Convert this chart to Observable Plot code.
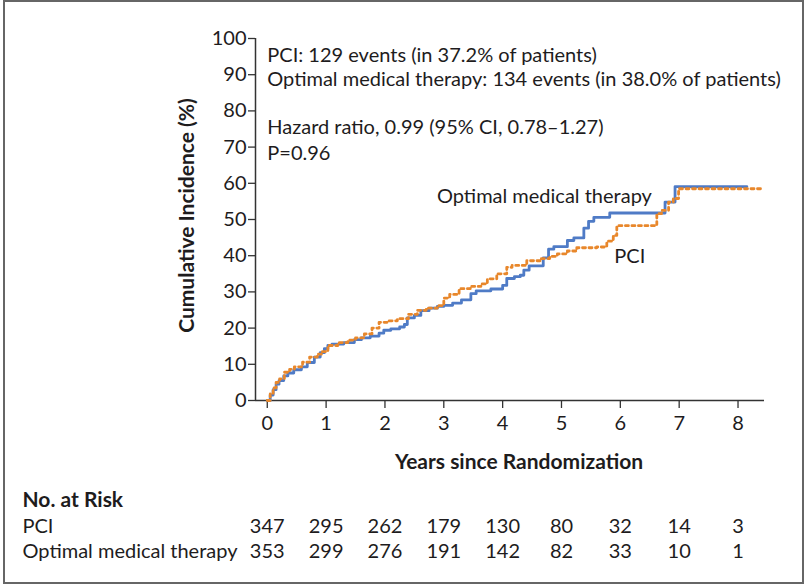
<!DOCTYPE html>
<html>
<head>
<meta charset="utf-8">
<script src="https://cdn.jsdelivr.net/npm/d3@7"></script>
<script src="https://cdn.jsdelivr.net/npm/@observablehq/plot@0.6"></script>
<style>
  html, body { margin: 0; padding: 0; background: #fff; }
  #wrap { position: relative; width: 810px; height: 586px; overflow: hidden; }
  #border { position: absolute; left: 3px; top: 0px; width: 797px; height: 580px; border: 2.5px solid #666; box-sizing: content-box; pointer-events: none; }
  #wrap svg { position: absolute; left: 0; top: 0; }
</style>
</head>
<body>
<div id="wrap"><div id="chart"></div><div id="border"></div></div>
<script>
// Optimal medical therapy (blue, solid): step starts [years, cumulative incidence %]
const omtYears = [0,0.05,0.1,0.15,0.2,0.28,0.35,0.45,0.58,0.68,0.8,0.9,0.97,1.03,1.1,1.3,1.48,1.6,1.75,1.9,1.98,2.1,2.25,2.33,2.38,2.5,2.61,2.75,2.89,3.0,3.15,3.3,3.46,3.55,3.8,4.0,4.07,4.2,4.3,4.36,4.45,4.69,4.78,4.87,5.1,5.21,5.38,5.46,5.55,5.82,6.76,6.93,8.15];
const omtValues = [0,1.5,3,4.5,5.5,6.8,7.6,8.5,9.3,10.5,12,13.2,14.3,15.2,15.6,16.0,16.8,17.3,17.8,18.6,19.4,19.8,20.3,21.0,22.8,23.5,24.8,25.5,26.0,26.3,26.9,27.8,29.5,30.3,30.8,31.8,33.7,34.2,34.6,36.0,37.2,39.4,41.8,42.5,44.2,44.9,47.6,49.5,50.6,51.8,54.8,59.1,59.1];

// PCI (orange, dotted)
const pciYears = [0,0.05,0.1,0.15,0.21,0.29,0.38,0.46,0.6,0.72,0.85,0.92,1.03,1.2,1.37,1.5,1.65,1.78,1.9,2.05,2.21,2.4,2.55,2.7,2.89,3.0,3.1,3.26,3.45,3.63,3.74,3.9,4.07,4.16,4.41,4.64,4.8,4.93,5.1,5.26,5.6,5.77,5.88,5.94,6.62,6.7,6.82,6.9,6.99,8.4];
const pciValues = [0,2,3.5,5,6,7.8,8.6,9.3,10.6,12,12.8,13.5,15.2,16,16.7,17.3,18.4,20,21.6,22,22.6,23.8,24.9,25.5,26.2,28.3,29.3,30.9,31.5,32.2,33.6,35,36.8,37.3,38.6,39.2,39.8,40.5,41.3,42.2,42.4,44,45.6,48.3,51.6,52.5,54.8,55.8,58.5,58.5];

// Axis ticks
const xTicks = [0,1,2,3,4,5,6,7,8];
const yTicks = [0,10,20,30,40,50,60,70,80,90,100];

// Number at risk
const riskYears = [0,1,2,3,4,5,6,7,8];
const pciRisk = [347,295,262,179,130,80,32,14,3];
const omtRisk = [353,299,276,191,142,82,33,10,1];

// Annotations (text, years, percent)
const noteTexts = ["PCI: 129 events (in 37.2% of patients)", "Optimal medical therapy: 134 events (in 38.0% of patients)", "Hazard ratio, 0.99 (95% CI, 0.78\u20131.27)", "P=0.96"];
const noteY = [95.2, 88.7, 75.3, 68.3];
const curveLabels = ["Optimal medical therapy", "PCI"];
const curveLabelX = [4.71, 6.16];
const curveLabelY = [56.4, 39.8];

const xDomain = [-0.2, 8.45];
const yDomain = [0, 100];

const omt = omtYears.map((t, i) => ({t, v: omtValues[i]}));
const pci = pciYears.map((t, i) => ({t, v: pciValues[i]}));
const notes = noteTexts.map((s, i) => ({s, x: 0, y: noteY[i]}));
const labs = curveLabels.map((s, i) => ({s, x: curveLabelX[i], y: curveLabelY[i]}));
const riskP = riskYears.map((t, i) => ({t, n: pciRisk[i]}));
const riskO = riskYears.map((t, i) => ({t, n: omtRisk[i]}));

const FONT = "Lato, 'Open Sans', sans-serif";
const FS = 20;
const FB = 21;
const INK = "#1e1c1d";
const BLUE = "#4f7bc6";
const ORANGE = "#e8872b";

const chart = Plot.plot({
  width: 810,
  height: 586,
  marginLeft: 255,
  marginRight: 46,
  marginTop: 38,
  marginBottom: 186,
  style: {fontFamily: FONT, fontSize: FS + "px", color: INK, background: "transparent", overflow: "visible"},
  x: {domain: xDomain},
  y: {domain: yDomain},
  marks: [
    Plot.axisY({ticks: yTicks, tickSize: 7, tickPadding: 2, label: null, fontSize: FS, stroke: "#333", strokeWidth: 1.3}),
    Plot.axisX({ticks: xTicks, tickSize: 8, tickPadding: 7, label: null, fontSize: FS, stroke: "#333", strokeWidth: 1.3}),
    Plot.ruleX([xDomain[0]], {stroke: "#333", strokeWidth: 1.5}),
    Plot.ruleY([yDomain[0]], {stroke: "#333", strokeWidth: 1.5}),
    Plot.line(omt, {x: "t", y: "v", curve: "step-after", stroke: BLUE, strokeWidth: 2.8}),
    Plot.line(pci, {x: "t", y: "v", curve: "step-after", stroke: ORANGE, strokeWidth: 2.8, strokeDasharray: "3,3.5"}),
    Plot.text(notes, {x: "x", y: "y", text: "s", textAnchor: "start", fontSize: FS, fill: INK}),
    Plot.text(labs, {x: "x", y: "y", text: "s", textAnchor: "middle", fontSize: FS, fill: INK}),
    // axis titles
    Plot.text(["Years since Randomization"], {frameAnchor: "bottom", textAnchor: "middle", dx: 9, dy: 68, fontWeight: "bold", fontSize: FB, fill: INK}),
    Plot.text(["Cumulative Incidence (%)"], {frameAnchor: "left", textAnchor: "middle", rotate: -90, dx: -68, dy: -4, fontWeight: "bold", fontSize: FB, fill: INK}),
    // number at risk table
    Plot.text(["No. at Risk"], {frameAnchor: "bottom-left", dx: -233, dy: 106, textAnchor: "start", fontWeight: "bold", fontSize: FB, fill: INK}),
    Plot.text(["PCI"], {frameAnchor: "bottom-left", dx: -233, dy: 132, textAnchor: "start", fontSize: FS, fill: INK}),
    Plot.text(["Optimal medical therapy"], {frameAnchor: "bottom-left", dx: -233, dy: 157, textAnchor: "start", fontSize: FS, fill: INK}),
    Plot.text(riskP, {x: "t", text: "n", frameAnchor: "bottom", dy: 132, fontSize: FS, fill: INK}),
    Plot.text(riskO, {x: "t", text: "n", frameAnchor: "bottom", dy: 157, fontSize: FS, fill: INK})
  ]
});
document.getElementById("chart").appendChild(chart);
</script>
</body>
</html>
